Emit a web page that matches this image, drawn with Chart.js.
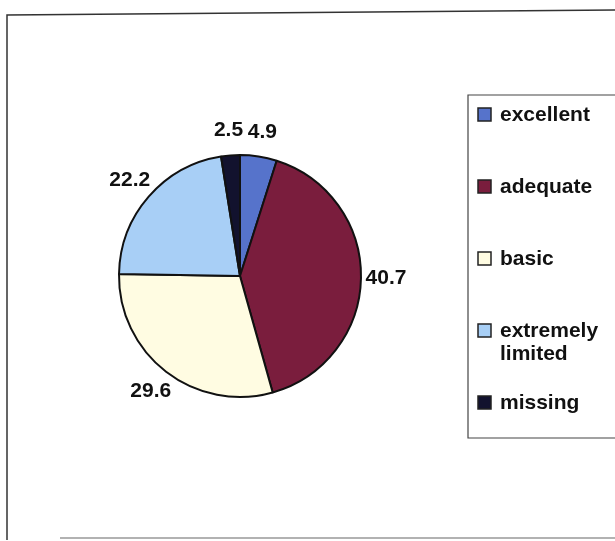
<!DOCTYPE html>
<html>
<head>
<meta charset="utf-8">
<title>Pie chart</title>
<script src="https://cdn.jsdelivr.net/npm/chart.js@4.4.1/dist/chart.umd.min.js"></script>
<style>
  body { margin: 0; background: #fff; }
  canvas { display: block; }
</style>
</head>
<body>
<canvas id="myPieChart" width="615" height="541"></canvas>
<script>
// categories and values (percent)
var categories = ['excellent', 'adequate', 'basic', 'extremely limited', 'missing'];
var values = [4.9, 40.7, 29.6, 22.2, 2.5];
var sliceColors = ['#5673cb', '#7a1d3d', '#fffce2', '#a8cff6', '#12122e'];

var FONT = 'Liberation Sans, Arial, sans-serif';

//white page plus the outer frame of the scanned figure
var framePlugin = {
  id: 'frame',
  beforeDraw: function(chart) {
    var ctx = chart.ctx;
    ctx.save();
    ctx.fillStyle = '#fff';
    ctx.fillRect(0, 0, chart.width, chart.height);
    ctx.strokeStyle = '#333';
    ctx.lineWidth = 1.5;
    ctx.beginPath();
    ctx.moveTo(7, 540);
    ctx.lineTo(7, 15);
    ctx.lineTo(620, 10);
    ctx.stroke();
    ctx.beginPath();
    ctx.moveTo(60, 538);
    ctx.lineTo(620, 538);
    ctx.strokeStyle = '#999';
    ctx.stroke();
    ctx.restore();
  }
};

//value labels just outside each slice
var valueLabelPlugin = {
  id: 'valueLabels',
  afterDatasetsDraw: function(chart) {
    var ctx = chart.ctx;
    var arcs = chart.getDatasetMeta(0).data;
    ctx.save();
    ctx.font = 'bold 21px ' + FONT;
    ctx.fillStyle = '#111';
    ctx.textAlign = 'center';
    ctx.textBaseline = 'middle';
    for (var i = 0; i < arcs.length; i++) {
      var a = arcs[i];
      var mid = (a.startAngle + a.endAngle) / 2;
      var dist = a.outerRadius + 25;
      ctx.fillText(values[i].toFixed(1), a.x + Math.cos(mid) * dist, a.y + Math.sin(mid) * dist);
    }
    ctx.restore();
  }
};

//boxed legend on the right, long labels wrap
var boxLegendPlugin = {
  id: 'boxLegend',
  afterDraw: function(chart) {
    var ctx = chart.ctx;
    var left = 468, top = 95, bottom = 438;
    var textX = 500, firstY = 115, step = 72, lineH = 23;
    var maxW = chart.width - textX - 2;
    ctx.save();
    ctx.strokeStyle = '#444';
    ctx.lineWidth = 1.2;
    ctx.beginPath();
    ctx.moveTo(chart.width + 5, top);
    ctx.lineTo(left, top);
    ctx.lineTo(left, bottom);
    ctx.lineTo(chart.width + 5, bottom);
    ctx.stroke();

    ctx.font = 'bold 21px ' + FONT;
    ctx.textBaseline = 'middle';
    ctx.textAlign = 'left';
    var labels = chart.data.labels;
    var colors = chart.data.datasets[0].backgroundColor;
    for (var i = 0; i < labels.length; i++) {
      var y = firstY + step * i;
      ctx.fillStyle = colors[i];
      ctx.fillRect(478, y - 7, 13, 13);
      ctx.strokeStyle = '#222';
      ctx.lineWidth = 1.5;
      ctx.strokeRect(478, y - 7, 13, 13);

      //wrap words if they don't fit
      var words = labels[i].split(' ');
      var lines = [];
      var cur = '';
      for (var w = 0; w < words.length; w++) {
        var test = cur ? cur + ' ' + words[w] : words[w];
        if (cur && ctx.measureText(test).width > maxW) {
          lines.push(cur);
          cur = words[w];
        } else {
          cur = test;
        }
      }
      lines.push(cur);
      ctx.fillStyle = '#111';
      for (var l = 0; l < lines.length; l++) {
        ctx.fillText(lines[l], textX, y + l * lineH);
      }
    }
    ctx.restore();
  }
};

var ctx = document.getElementById('myPieChart').getContext('2d');
var chart = new Chart(ctx, {
  type: 'pie',
  data: {
    labels: categories,
    datasets: [{
      data: values,
      backgroundColor: sliceColors,
      borderColor: '#111',
      borderWidth: 2
    }]
  },
  options: {
    responsive: false,
    animation: false,
    layout: {
      padding: { left: 118, right: 253, top: 154, bottom: 143 }
    },
    plugins: {
      legend: { display: false },
      tooltip: { enabled: false }
    }
  },
  plugins: [framePlugin, valueLabelPlugin, boxLegendPlugin]
});
</script>
</body>
</html>
